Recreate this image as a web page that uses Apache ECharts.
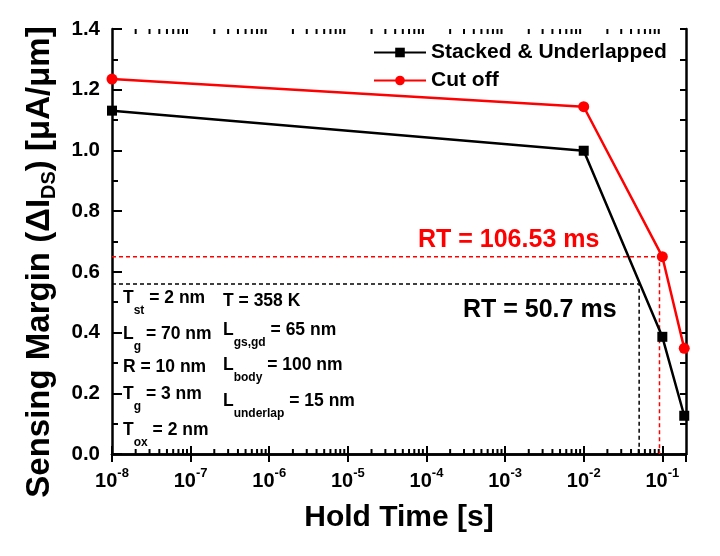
<!DOCTYPE html>
<html>
<head>
<meta charset="utf-8">
<script src="https://cdn.jsdelivr.net/npm/echarts@6/dist/echarts.min.js"></script>
<style>
  html, body { margin: 0; padding: 0; background: #fff; }
  #main { width: 720px; height: 556px; }
</style>
</head>
<body>
<div id="main"></div>
<script>
// hold time [s] and sensing margin [uA/um]
var holdTime = [1e-8, 1e-2, 0.1, 0.19];
var stackedUnderlapped = [1.131, 0.999, 0.386, 0.126];
var cutOff = [1.235, 1.144, 0.650, 0.348];
// retention time guides: [time, margin]
var rtCutOff = [0.092, 0.65];
var rtStacked = [0.0507, 0.56];
var seriesNames = ['Stacked & Underlapped', 'Cut off'];

var FONT = '"Liberation Sans", Arial, sans-serif';

function pairs(xs, ys) {
  return xs.map(function (x, i) { return [x, ys[i]]; });
}
function guide(rt) {
  return [[holdTime[0], rt[1]], [rt[0], rt[1]], [rt[0], 0]];
}

// minor log ticks 2..9 x 10^k
var minorX = [];
for (var k = -8; k <= -1; k++) {
  for (var m = 2; m <= 9; m++) {
    var v = m * Math.pow(10, k);
    if (v < 0.2) minorX.push([v, 0]);
  }
}

function minorTick(params, api) {
  var p = api.coord([api.value(0), 0]);
  var cs = params.coordSys;
  var st = { stroke: '#000', lineWidth: 2 };
  return {
    type: 'group',
    children: [
      { type: 'line', shape: { x1: p[0], y1: cs.y + cs.height, x2: p[0], y2: cs.y + cs.height - 5 }, style: st },
      { type: 'line', shape: { x1: p[0], y1: cs.y, x2: p[0], y2: cs.y + 5 }, style: st }
    ]
  };
}

var chart = echarts.init(document.getElementById('main'));

var axisLine = { show: true, lineStyle: { color: '#000', width: 2.5 } };
var xLab = {
  fontFamily: FONT, color: '#000', margin: 13,
  showMaxLabel: false,
  formatter: function (v) { return '{b|10}{s|' + Math.round(Math.log10(v)) + '}'; },
  rich: {
    b: { fontSize: 20, fontWeight: 'bold', fontFamily: FONT, color: '#000' },
    s: { fontSize: 13, fontWeight: 'bold', fontFamily: FONT, color: '#000', padding: [0, 0, 16, 0] }
  }
};

function param(x, y, main, sub, rest) {
  var t = '{m|' + main + '}';
  if (sub) t += '{s|' + sub + '}';
  t += '{m|' + rest + '}';
  return {
    type: 'text', x: x, y: y,
    style: {
      text: t, align: 'left', verticalAlign: 'middle',
      rich: {
        m: { fontSize: 17.5, fontWeight: 'bold', fontFamily: FONT, fill: '#000' },
        s: { fontSize: 12, fontWeight: 'bold', fontFamily: FONT, fill: '#000', padding: [26, 0, 0, 0] }
      }
    }
  };
}

var option = {
  animation: false,
  backgroundColor: '#fff',
  grid: { left: 112, right: 34, top: 29, bottom: 102 },
  legend: {
    left: 373, top: 42, orient: 'vertical', padding: 0,
    itemWidth: 52, itemHeight: 12, itemGap: 7,
    data: seriesNames,
    textStyle: { fontSize: 21, fontWeight: 'bold', color: '#000', fontFamily: FONT }
  },
  xAxis: [{
    type: 'log', logBase: 10, min: 1e-8, max: 0.2,
    name: 'Hold Time [s]', nameLocation: 'middle', nameGap: 49,
    nameTextStyle: { fontSize: 30, fontWeight: 'bold', color: '#000', fontFamily: FONT },
    axisLine: axisLine,
    axisTick: { inside: true, length: 8, lineStyle: { color: '#000', width: 2 } },
    axisLabel: xLab,
    splitLine: { show: false }
  }, {
    type: 'log', logBase: 10, min: 1e-8, max: 0.2, position: 'top',
    axisLine: axisLine,
    axisTick: { inside: true, length: 8, lineStyle: { color: '#000', width: 2 } },
    axisLabel: { show: false },
    splitLine: { show: false }
  }],
  yAxis: [{
    type: 'value', min: 0, max: 1.4, interval: 0.2,
    axisLine: axisLine,
    axisTick: { inside: true, length: 10, lineStyle: { color: '#000', width: 2 } },
    minorTick: { show: true, splitNumber: 2, length: 6, lineStyle: { color: '#000', width: 2 } },
    axisLabel: {
      fontSize: 20.5, fontWeight: 'bold', color: '#000', fontFamily: FONT, margin: 12,
      formatter: function (v) { return v.toFixed(1); }
    },
    splitLine: { show: false }
  }, {
    type: 'value', min: 0, max: 1.4, interval: 0.2, position: 'right',
    axisLine: axisLine,
    axisTick: { inside: true, length: 6, lineStyle: { color: '#000', width: 2 } },
    minorTick: { show: true, splitNumber: 2, length: 6, lineStyle: { color: '#000', width: 2 } },
    axisLabel: { show: false },
    splitLine: { show: false }
  }],
  graphic: [
    {
      type: 'text', x: 40, y: 262, rotation: Math.PI / 2,
      style: {
        text: '{m|Sensing Margin (ΔI}{s|DS}{m|) [μA/μm]}',
        align: 'center', verticalAlign: 'middle',
        rich: {
          m: { fontSize: 33, fontWeight: 'bold', fontFamily: FONT, fill: '#000' },
          s: { fontSize: 20, fontWeight: 'bold', fontFamily: FONT, fill: '#000', padding: [18, 0, 0, 0] }
        }
      }
    },
    { type: 'text', x: 418, y: 240, style: { text: 'RT = 106.53 ms', fill: '#ff0000', font: 'bold 25px ' + FONT, align: 'left', verticalAlign: 'middle' } },
    { type: 'text', x: 463, y: 310, style: { text: 'RT = 50.7 ms', fill: '#000', font: 'bold 25px ' + FONT, align: 'left', verticalAlign: 'middle' } },
    param(123, 298, 'T', 'st', ' = 2 nm'),
    param(223, 301, 'T = 358 K', '', ''),
    param(123, 334, 'L', 'g', ' = 70 nm'),
    param(223, 330, 'L', 'gs,gd', ' = 65 nm'),
    param(123, 367, 'R = 10 nm', '', ''),
    param(223, 365, 'L', 'body', ' = 100 nm'),
    param(123, 394, 'T', 'g', ' = 3 nm'),
    param(223, 401, 'L', 'underlap', ' = 15 nm'),
    param(123, 430, 'T', 'ox', ' = 2 nm')
  ],
  series: [
    {
      type: 'custom', renderItem: minorTick, data: minorX, silent: true, z: 1
    },
    {
      type: 'line', data: guide(rtCutOff), showSymbol: false, silent: true, z: 2,
      lineStyle: { color: '#ff0000', width: 1.5, type: [4, 3] }
    },
    {
      type: 'line', data: guide(rtStacked), showSymbol: false, silent: true, z: 2,
      lineStyle: { color: '#000', width: 1.5, type: [4, 3] }
    },
    {
      name: seriesNames[0], type: 'line', data: pairs(holdTime, stackedUnderlapped), z: 3,
      symbol: 'rect', symbolSize: 10,
      lineStyle: { color: '#000', width: 2.5 },
      itemStyle: { color: '#000' }
    },
    {
      name: seriesNames[1], type: 'line', data: pairs(holdTime, cutOff), z: 4,
      symbol: 'circle', symbolSize: 11,
      lineStyle: { color: '#ff0000', width: 2.5 },
      itemStyle: { color: '#ff0000' }
    }
  ]
};

chart.setOption(option);
</script>
</body>
</html>
